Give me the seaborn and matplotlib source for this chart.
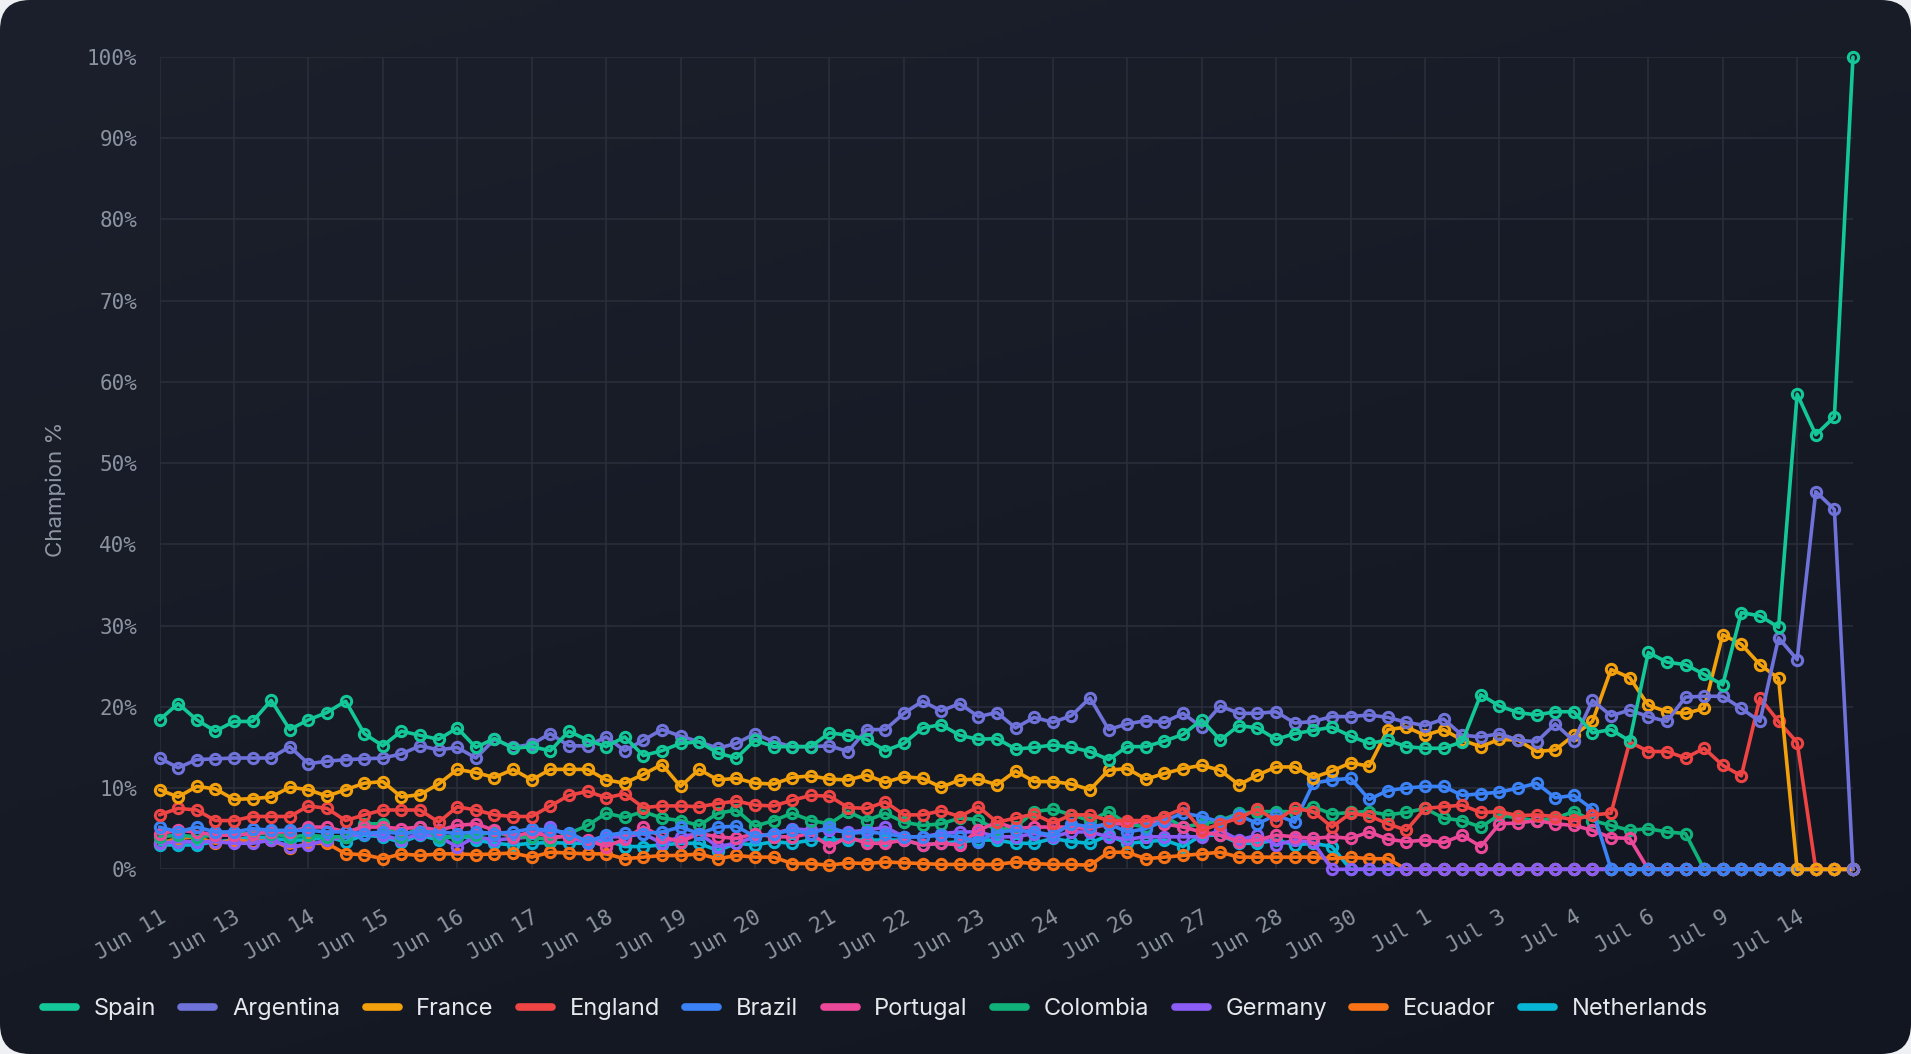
import numpy as np
import pandas as pd
import matplotlib
matplotlib.use("Agg")
import matplotlib.pyplot as plt
import seaborn as sns
from matplotlib.lines import Line2D
from matplotlib.patches import FancyBboxPatch
from matplotlib.transforms import IdentityTransform

# ---- data (one value per snapshot) ----
teams = ["Spain", "Argentina", "France", "England", "Brazil",
         "Portugal", "Colombia", "Germany", "Ecuador", "Netherlands"]

tick_labels = ["Jun 11", "Jun 13", "Jun 14", "Jun 15", "Jun 16", "Jun 17", "Jun 18",
               "Jun 19", "Jun 20", "Jun 21", "Jun 22", "Jun 23", "Jun 24", "Jun 26",
               "Jun 27", "Jun 28", "Jun 30", "Jul 1", "Jul 3", "Jul 4", "Jul 6",
               "Jul 9", "Jul 14"]

spain = [18.4, 20.4, 18.4, 17.0, 18.2, 18.2, 20.8, 17.2, 18.4, 19.3, 20.7, 16.7, 15.2, 17.0, 16.5, 16.0, 17.4, 15.0, 16.1,
         14.9, 15.1, 14.6, 17.0, 15.9, 15.1, 16.3, 14.0, 14.6, 15.5, 15.7, 14.3, 13.7, 15.9, 15.1, 15.1, 15.1, 16.8,
         16.5, 16.0, 14.6, 15.5, 17.4, 17.8, 16.5, 16.0, 16.1, 14.8, 15.0, 15.3, 15.0, 14.5, 13.5, 15.1, 15.1, 15.8,
         16.6, 18.4, 15.9, 17.7, 17.4, 16.0, 16.7, 17.1, 17.5, 16.4, 15.5, 15.9, 15.1, 14.9, 14.9, 15.7, 21.5, 20.1,
         19.3, 19.0, 19.4, 19.4, 16.8, 17.2, 15.8, 26.7, 25.5, 25.2, 24.0, 22.7, 31.6, 31.2, 29.8, 58.5, 53.5, 55.7, 100.0]

argentina = [13.7, 12.5, 13.5, 13.6, 13.7, 13.7, 13.7, 15.1, 13.0, 13.3, 13.5, 13.6, 13.7, 14.2, 15.2, 14.7, 15.0, 13.7, 16.0,
             15.0, 15.4, 16.7, 15.2, 15.2, 16.3, 14.6, 15.9, 17.2, 16.4, 15.7, 14.9, 15.5, 16.7, 15.7, 15.1, 15.1, 15.2,
             14.5, 17.2, 17.2, 19.2, 20.7, 19.5, 20.4, 18.8, 19.3, 17.4, 18.7, 18.1, 18.9, 21.1, 17.2, 17.9, 18.3, 18.1,
             19.2, 17.5, 20.1, 19.2, 19.2, 19.4, 18.0, 18.2, 18.8, 18.8, 19.0, 18.7, 18.1, 17.7, 18.5, 16.5, 16.3, 16.7,
             15.9, 15.7, 17.9, 15.8, 20.8, 18.9, 19.6, 18.8, 18.2, 21.2, 21.3, 21.3, 19.8, 18.2, 28.5, 25.8, 46.5, 44.3, 0.0]

france = [9.8, 8.9, 10.2, 9.9, 8.6, 8.7, 8.9, 10.1, 9.8, 9.0, 9.8, 10.6, 10.8, 8.9, 9.2, 10.5, 12.3, 11.9, 11.3,
          12.3, 11.0, 12.3, 12.3, 12.3, 11.0, 10.6, 11.7, 12.9, 10.2, 12.3, 11.0, 11.2, 10.6, 10.5, 11.3, 11.5, 11.1,
          11.0, 11.6, 10.7, 11.4, 11.2, 10.1, 11.0, 11.1, 10.4, 12.1, 10.8, 10.8, 10.5, 9.8, 12.2, 12.4, 11.1, 11.8,
          12.4, 12.8, 12.2, 10.4, 11.6, 12.6, 12.6, 11.3, 12.1, 13.1, 12.7, 17.2, 17.5, 16.5, 17.2, 15.9, 15.1, 16.0,
          15.9, 14.5, 14.7, 16.5, 18.2, 24.6, 23.6, 20.2, 19.4, 19.2, 19.8, 28.9, 27.7, 25.2, 23.5, 0.0, 0.0, 0.0, 0.0]

england = [6.7, 7.5, 7.3, 6.0, 6.0, 6.5, 6.5, 6.5, 7.8, 7.5, 6.0, 6.7, 7.3, 7.3, 7.3, 5.8, 7.7, 7.3, 6.7,
           6.5, 6.5, 7.8, 9.1, 9.6, 8.8, 9.3, 7.6, 7.8, 7.8, 7.7, 8.1, 8.4, 7.9, 7.8, 8.5, 9.1, 9.0,
           7.6, 7.5, 8.3, 6.7, 6.7, 7.2, 6.5, 7.7, 5.8, 6.3, 6.8, 5.7, 6.7, 6.7, 6.0, 6.0, 6.0, 6.5,
           7.5, 4.8, 5.6, 6.3, 7.4, 6.0, 7.5, 7.1, 5.2, 6.9, 6.6, 5.6, 4.8, 7.5, 7.7, 7.9, 7.0, 7.1,
           6.6, 6.7, 6.5, 6.1, 6.7, 6.9, 15.7, 14.5, 14.5, 13.7, 14.9, 12.8, 11.5, 21.1, 18.2, 15.6, 0.0, 0.0, 0.0]

brazil = [5.2, 4.6, 5.2, 4.6, 4.6, 5.0, 4.8, 4.8, 4.8, 4.6, 4.6, 4.4, 4.6, 4.4, 4.6, 4.6, 4.4, 4.6, 4.4,
          4.6, 5.0, 4.8, 4.5, 3.4, 4.2, 4.5, 4.4, 4.6, 5.2, 4.4, 5.2, 5.3, 4.0, 4.4, 4.8, 4.4, 5.2,
          4.4, 4.6, 4.4, 4.0, 4.0, 4.2, 4.0, 3.4, 4.6, 4.8, 4.6, 4.2, 5.6, 5.2, 5.6, 4.6, 5.0, 6.0,
          6.9, 6.5, 5.8, 6.7, 5.6, 6.7, 5.8, 10.6, 11.0, 11.2, 8.6, 9.7, 10.0, 10.2, 10.2, 9.1, 9.3, 9.5,
          10.0, 10.6, 8.8, 9.1, 7.4, 0.0, 0.0, 0.0, 0.0, 0.0, 0.0, 0.0, 0.0, 0.0, 0.0, 0.0, 0.0, 0.0, 0.0]

portugal = [4.4, 4.8, 4.6, 4.2, 4.2, 4.4, 4.6, 4.6, 5.2, 5.2, 4.6, 5.2, 5.2, 5.0, 5.2, 4.8, 5.4, 5.6, 4.8,
            4.0, 4.6, 4.0, 4.0, 3.6, 2.8, 3.7, 5.2, 4.0, 3.4, 4.4, 4.0, 3.8, 4.4, 4.0, 4.0, 4.4, 2.8,
            4.0, 3.2, 3.2, 3.6, 3.0, 3.2, 3.0, 4.8, 5.8, 5.0, 5.2, 5.2, 5.2, 5.0, 5.6, 5.6, 6.0, 5.6,
            5.2, 4.6, 4.2, 3.4, 3.6, 4.2, 4.0, 3.8, 4.0, 3.8, 4.6, 3.7, 3.4, 3.6, 3.3, 4.2, 2.8, 5.6,
            5.7, 6.0, 5.6, 5.4, 4.8, 3.9, 3.8, 0.0, 0.0, 0.0, 0.0, 0.0, 0.0, 0.0, 0.0, 0.0, 0.0, 0.0, 0.0]

colombia = [4.0, 4.2, 4.0, 4.2, 4.4, 4.4, 4.4, 4.0, 4.2, 4.0, 4.0, 5.6, 5.6, 4.0, 5.2, 4.0, 4.0, 4.2, 4.6,
            4.0, 4.0, 3.6, 4.4, 5.4, 6.9, 6.4, 7.1, 6.3, 6.0, 5.4, 6.9, 7.3, 5.3, 6.0, 6.9, 6.0, 5.6,
            7.1, 6.0, 6.9, 5.8, 5.4, 5.6, 6.3, 6.1, 4.8, 5.2, 7.1, 7.4, 6.7, 6.0, 7.1, 5.6, 5.2, 6.5,
            5.2, 5.6, 6.0, 6.9, 7.1, 7.1, 7.1, 7.7, 6.8, 7.0, 7.1, 6.7, 7.0, 7.5, 6.3, 6.0, 5.2, 6.7,
            6.3, 6.0, 6.3, 7.1, 6.0, 5.4, 4.8, 5.0, 4.6, 4.4, 0.0, 0.0, 0.0, 0.0, 0.0, 0.0, 0.0, 0.0, 0.0]

germany = [3.2, 3.4, 3.4, 3.4, 3.2, 3.2, 3.6, 2.8, 3.0, 3.6, 4.0, 4.4, 4.2, 3.6, 4.4, 4.0, 2.8, 4.0, 3.6,
           3.8, 4.0, 5.2, 4.0, 3.2, 4.0, 4.0, 4.4, 3.2, 4.0, 4.4, 2.8, 3.2, 4.0, 4.4, 5.0, 4.8, 4.8,
           4.6, 4.8, 5.2, 4.0, 4.0, 4.4, 4.6, 4.6, 4.0, 4.0, 4.4, 4.0, 4.6, 4.6, 4.0, 3.7, 4.0, 4.0,
           4.0, 4.0, 4.8, 3.6, 4.2, 3.0, 3.6, 3.3, 0.0, 0.0, 0.0, 0.0, 0.0, 0.0, 0.0, 0.0, 0.0, 0.0,
           0.0, 0.0, 0.0, 0.0, 0.0, 0.0, 0.0, 0.0, 0.0, 0.0, 0.0, 0.0, 0.0, 0.0, 0.0, 0.0, 0.0, 0.0, 0.0]

ecuador = [3.2, 3.8, 4.0, 3.2, 3.6, 3.4, 3.6, 2.6, 3.2, 3.2, 1.9, 1.8, 1.3, 1.9, 1.7, 1.9, 1.9, 1.8, 1.9,
           2.0, 1.5, 2.1, 2.0, 1.9, 1.9, 1.3, 1.5, 1.7, 1.7, 1.9, 1.3, 1.7, 1.5, 1.5, 0.7, 0.7, 0.5,
           0.8, 0.7, 0.9, 0.8, 0.7, 0.6, 0.6, 0.6, 0.6, 0.9, 0.7, 0.6, 0.6, 0.5, 2.1, 2.1, 1.3, 1.5,
           1.7, 1.9, 2.1, 1.5, 1.5, 1.5, 1.5, 1.5, 1.3, 1.5, 1.3, 1.3, 0.0, 0.0, 0.0, 0.0, 0.0, 0.0,
           0.0, 0.0, 0.0, 0.0, 0.0, 0.0, 0.0, 0.0, 0.0, 0.0, 0.0, 0.0, 0.0, 0.0, 0.0, 0.0, 0.0, 0.0, 0.0]

netherlands = [3.0, 3.0, 3.0, 3.4, 3.6, 4.0, 3.8, 3.6, 3.6, 4.0, 3.4, 4.2, 4.0, 3.3, 4.2, 3.6, 4.2, 3.6, 3.2,
               3.0, 3.2, 3.3, 3.2, 3.2, 3.6, 2.8, 2.8, 3.0, 3.2, 3.2, 2.3, 3.2, 3.0, 3.4, 3.2, 3.6, 3.6,
               3.6, 3.6, 3.6, 3.6, 3.0, 3.2, 3.4, 3.6, 3.6, 3.2, 3.2, 3.8, 3.4, 3.2, 4.2, 3.2, 3.4, 3.6,
               2.8, 4.2, 4.2, 3.2, 3.2, 3.6, 3.0, 3.2, 2.8, 0.0, 0.0, 0.0, 0.0, 0.0, 0.0, 0.0, 0.0, 0.0,
               0.0, 0.0, 0.0, 0.0, 0.0, 0.0, 0.0, 0.0, 0.0, 0.0, 0.0, 0.0, 0.0, 0.0, 0.0, 0.0, 0.0, 0.0, 0.0]

series = [spain, argentina, france, england, brazil,
          portugal, colombia, germany, ecuador, netherlands]

colors = ["#14c799", "#6f72d8", "#f3a00d", "#ef4444", "#3b82f6",
          "#ec4899", "#10b27a", "#8b5cf6", "#f97316", "#06b6d4"]

# long table for seaborn
frames = []
for team, vals in zip(teams, series):
    frames.append(pd.DataFrame({"snapshot": np.arange(len(vals)), "pct": vals, "team": team}))
df = pd.concat(frames, ignore_index=True)

# ---- style ----
GRID = "#2a2f3b"
TICK_TXT = "#8c93a0"
sns.set_theme(style="dark")
plt.rcParams["font.family"] = ["Inter", "DejaVu Sans"]

W, H = 1911, 1054
fig = plt.figure(figsize=(W / 100, H / 100), dpi=100)
fig.patch.set_facecolor("#eef0f3")

# rounded card with a soft dark gradient
bg = fig.add_axes([0, 0, 1, 1], zorder=-10)
yy, xx = np.mgrid[0:1:200j, 0:1:200j]
grad = 0.65 * yy + 0.35 * xx
card = matplotlib.colors.LinearSegmentedColormap.from_list("card", ["#1b202c", "#121620"])
im = bg.imshow(grad, cmap=card, extent=[0, 1, 0, 1], aspect="auto", origin="upper")
bg.set_xlim(0, 1)
bg.set_ylim(0, 1)
bg.axis("off")
clip = FancyBboxPatch((0, 0), W, H, boxstyle="round,pad=0,rounding_size=30",
                      transform=IdentityTransform(), facecolor="none", edgecolor="none")
fig.add_artist(clip)
im.set_clip_path(clip)

left, right = 159.5 / W, 1853 / W
bottom, top = 1 - 869.3 / H, 1 - 57 / H
ax = fig.add_axes([left, bottom, right - left, top - bottom])
ax.set_facecolor("none")

# first team in the legend ends up on top, as in the original
for k in range(len(teams) - 1, -1, -1):
    sub = df[df["team"] == teams[k]]
    sns.lineplot(data=sub, x="snapshot", y="pct", ax=ax, color=colors[k],
                 linewidth=2.6, marker="o", markersize=7.4, markerfacecolor="none",
                 markeredgecolor=colors[k], markeredgewidth=2.2,
                 clip_on=False, legend=False, zorder=3 + (len(teams) - k) * 0.1)

ax.set_xlim(0, len(spain) - 1)
ax.set_ylim(0, 100)
ax.set_xticks(np.arange(0, len(spain) - 1, 4))
ax.set_xticklabels(tick_labels)
ax.set_yticks(np.arange(0, 101, 10))
ax.set_yticklabels([f"{v}%" for v in range(0, 101, 10)])
ax.grid(True, color=GRID, linewidth=1.1)
for s in ax.spines.values():
    s.set_visible(False)
ax.tick_params(axis="both", length=11, width=1.1, color=GRID, labelcolor=TICK_TXT)
ax.tick_params(axis="y", pad=5)
ax.tick_params(axis="x", pad=16)
for lab in ax.get_yticklabels():
    lab.set_fontfamily(["DejaVu Sans Mono"])
    lab.set_fontsize(15)
for lab in ax.get_xticklabels():
    lab.set_fontfamily(["DejaVu Sans Mono"])
    lab.set_fontsize(15.5)
    lab.set_rotation(30)
    lab.set_ha("right")
    lab.set_rotation_mode("anchor")
ax.set_xlabel("")
ax.set_ylabel("Champion %", fontsize=16, color="#8f96a3")
ax.yaxis.set_label_coords(-0.055, 0.468)

handles = [Line2D([0], [0], color=c, linewidth=5.5, solid_capstyle="round") for c in colors]
leg = fig.legend(handles, teams, loc="center left", bbox_to_anchor=(43 / W, 1 - 1009 / H),
                 ncol=len(teams), frameon=False, fontsize=17, handlelength=1.4,
                 handletextpad=0.75, columnspacing=1.07, borderpad=0, borderaxespad=0)
for t in leg.get_texts():
    t.set_color("#e6e8ec")

fig.savefig("out.png", dpi=100, facecolor=fig.get_facecolor())
